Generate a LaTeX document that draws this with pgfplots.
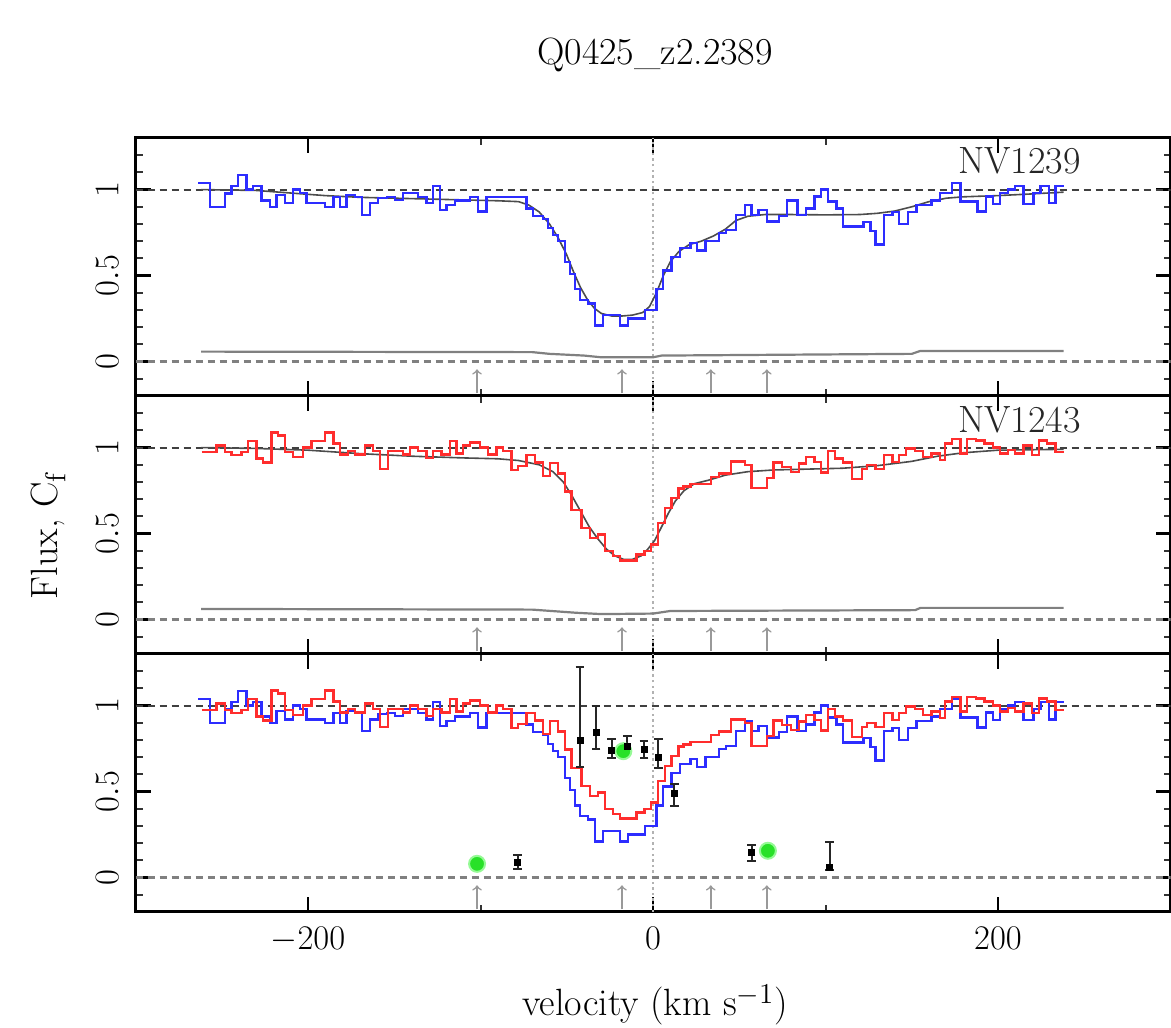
\documentclass[border=0pt]{standalone}
\usepackage{pgfplots}
\pgfplotsset{compat=1.18}
\usepackage{pgfplotstable}

\definecolor{specblue}{RGB}{45,45,255}
\definecolor{specred}{RGB}{255,45,45}
\definecolor{ptgreen}{RGB}{40,225,40}
\definecolor{ptgreenlt}{RGB}{150,250,150}

\pgfplotstableread{
v f
-263.6 1.04
-256.8 0.90
-248.1 0.977
-244.3 1.02
-240.4 1.085
-235.6 1.0
-231.7 1.02
-226.9 0.936
-222.1 0.90
-218.2 0.97
-213.4 0.92
-208.5 1.0
-204.7 0.98
-200.8 0.92
-190.2 0.90
-185.3 0.957
-181.5 0.90
-177.6 0.97
-172.8 0.957
-168.9 0.854
-164.1 0.92
-159.3 0.95
-154.4 0.957
-149.6 0.94
-144.8 0.98
-136.1 0.957
-131.3 0.92
-127.4 1.02
-123.5 0.88
-119.7 0.91
-114.8 0.936
-106.1 0.957
-101.3 0.873
-96.5 0.957
-73.3 0.89
-69.4 0.848
-63.6 0.83
-60.7 0.776
-57.8 0.737
-54.9 0.70
-51.1 0.58
-48.2 0.51
-45.3 0.42
-42.4 0.36
-37.6 0.337
-33.7 0.21
-28.9 0.27
-19.2 0.21
-14.4 0.25
-4.7 0.30
2.0 0.42
5.9 0.53
10.8 0.61
15.8 0.66
21.7 0.69
25.6 0.645
30.5 0.70
38.4 0.747
42.4 0.766
48.3 0.854
53.2 0.91
57.1 0.854
61.1 0.883
66.0 0.815
72.9 0.845
77.8 0.936
83.7 0.854
88.6 0.89
93.6 0.96
97.5 1.0
101.5 0.93
106.4 0.89
110.3 0.785
122.1 0.81
126.1 0.76
129.0 0.68
134.0 0.854
138.9 0.87
142.8 0.80
147.8 0.87
152.7 0.91
161.5 0.936
166.5 0.98
173.4 1.04
178.3 0.93
188.1 0.873
193.1 0.96
197.0 0.916
201.0 0.98
205.9 1.0
209.8 1.02
214.7 0.916
220.6 0.98
224.6 1.02
229.5 0.92
233.4 1.02
238.4 1.02
}\bluespec

\pgfplotstableread{
v f
-261.7 0.975
-253.0 1.013
-248.1 0.975
-244.3 0.956
-238.5 0.975
-234.6 1.04
-229.8 0.937
-225.9 0.913
-221.1 1.087
-217.2 1.07
-213.4 0.975
-208.5 0.946
-202.7 1.0
-197.9 1.04
-190.2 1.087
-185.3 1.023
-181.5 0.96
-176.7 0.98
-172.8 0.96
-167.0 1.013
-162.2 0.98
-158.3 0.875
-153.5 0.98
-144.8 0.96
-140.9 1.0
-136.1 0.98
-131.3 0.94
-127.4 0.98
-122.6 0.96
-117.7 1.04
-113.9 0.965
-110.0 1.013
-106.1 1.03
-100.3 1.0
-95.5 0.96
-90.7 1.0
-86.8 0.98
-82.0 0.87
-78.1 0.894
-73.3 0.956
-68.5 0.913
-63.6 0.836
-59.8 0.91
-54.9 0.85
-51.1 0.744
-47.2 0.638
-41.4 0.533
-36.6 0.475
-31.8 0.494
-27.9 0.398
-23.1 0.37
-19.2 0.344
-9.5 0.379
-4.9 0.40
-1.0 0.437
3.0 0.56
6.9 0.648
10.8 0.706
14.8 0.763
17.7 0.773
21.7 0.79
33.5 0.83
38.4 0.85
45.3 0.92
53.2 0.90
57.1 0.767
66.0 0.825
69.9 0.913
74.9 0.888
79.8 0.86
84.7 0.908
88.6 0.946
93.6 0.917
97.5 0.856
101.5 0.98
105.4 0.937
110.3 0.913
115.2 0.817
121.2 0.875
124.1 0.898
129.0 0.875
134.0 0.956
138.9 0.917
142.8 0.956
146.8 0.994
151.7 0.98
156.6 0.946
161.5 0.965
166.5 0.927
169.4 1.023
173.4 1.05
178.3 0.965
182.2 1.048
187.2 1.042
192.1 1.023
197.0 1.0
201.0 0.965
205.9 0.985
209.8 0.965
214.7 1.013
219.7 0.956
223.6 1.042
228.5 1.023
233.4 0.975
238.4 0.975
}\redspec

\pgfplotstableread{
v f
-262 1.0
-230 0.995
-210 0.98
-190 0.965
-170 0.955
-150 0.95
-130 0.945
-110 0.94
-90 0.935
-78 0.93
-72 0.91
-66 0.87
-60 0.80
-55 0.72
-50 0.62
-46 0.52
-42 0.43
-38 0.36
-34 0.31
-30 0.28
-24 0.265
-18 0.265
-12 0.27
-6 0.285
-2 0.32
2 0.40
6 0.50
10 0.58
15 0.64
21 0.68
28 0.70
35 0.73
42 0.77
48 0.82
55 0.845
65 0.855
80 0.855
100 0.853
120 0.855
130 0.862
140 0.875
150 0.90
160 0.93
170 0.95
180 0.958
200 0.965
220 0.975
238 0.985
}\fitone

\pgfplotstableread{
v f
-262 1.0
-230 0.995
-200 0.985
-170 0.965
-140 0.95
-110 0.94
-90 0.935
-78 0.925
-66 0.90
-58 0.86
-52 0.80
-47 0.72
-42 0.63
-37 0.54
-32 0.47
-27 0.41
-22 0.37
-17 0.35
-12 0.35
-7 0.37
-3 0.41
1 0.46
5 0.54
9 0.62
13 0.69
18 0.75
24 0.79
32 0.81
42 0.84
55 0.86
70 0.87
90 0.875
110 0.88
130 0.895
150 0.92
165 0.95
180 0.97
200 0.985
238 0.99
}\fittwo

\pgfplotstableread{
v f
-262 0.058
-70 0.055
-60 0.045
-40 0.035
-30 0.025
0 0.025
5 0.035
150 0.045
155 0.062
238 0.062
}\errone

\pgfplotstableread{
v f
-262 0.062
-70 0.058
-45 0.040
-30 0.032
0 0.035
10 0.050
152 0.055
155 0.068
238 0.068
}\errtwo

\pgfplotsset{
  panel/.style={
    scale only axis, width=517.5pt, height=129pt,
    xmin=-300, xmax=300, ymin=-0.2, ymax=1.3,
    anchor=south west,
    axis line style={line width=1.5pt},
    xtick={-200,0,200}, minor xtick={-100,100},
    ytick={0,0.5,1},
    minor ytick={-0.1,0.1,0.2,0.3,0.4,0.6,0.7,0.8,0.9,1.1,1.2},
    tick align=inside,
    major tick length=7.5pt, minor tick length=3.5pt,
    every major tick/.append style={line width=1.2pt, black},
    every minor tick/.append style={line width=1pt, black!80},
    xticklabels={},
    tick label style={font=\fontsize{19}{22}\selectfont},
    yticklabel style={xshift=-5pt, rotate=90, anchor=south},
    clip=true,
  },
  hline1/.style={black!75, line width=1pt, dash pattern=on 3.5pt off 2.5pt},
  hline0/.style={black!50, line width=1.3pt, dash pattern=on 3.5pt off 2.5pt},
  vline/.style={black!30, line width=1.3pt, dash pattern=on 1.2pt off 1.6pt},
  arr/.style={black!40, line width=0.8pt, ->, quiver={u=0, v=0.14}},
}

\begin{document}
\begin{tikzpicture}
\useasboundingbox (0,0) rectangle (585.5pt,513.5pt);

% Panel 1
\begin{axis}[panel, at={(67.75pt,315.5pt)}]
\addplot[vline] coordinates {(0,-0.2) (0,1.3)};
\addplot[hline1] coordinates {(-300,1) (300,1)};
\addplot[hline0] coordinates {(-300,0) (300,0)};
\addplot[black!50, line width=1.1pt] table[x=v,y=f] {\errone};
\addplot[black!70, line width=0.8pt] table[x=v,y=f] {\fitone};
\addplot[specblue, line width=1.15pt, const plot] table[x=v,y=f] {\bluespec};
\addplot[arr] coordinates {(-102,-0.185) (-18,-0.185) (33.5,-0.185) (66,-0.185)};
\node[anchor=east, font=\fontsize{19}{22}\selectfont, text=black!85] at (axis cs:252,1.17) {NV1239};
\end{axis}

% Panel 2
\begin{axis}[panel, at={(67.75pt,186.5pt)}]
\addplot[vline] coordinates {(0,-0.2) (0,1.3)};
\addplot[hline1] coordinates {(-300,1) (300,1)};
\addplot[hline0] coordinates {(-300,0) (300,0)};
\addplot[black!50, line width=1.1pt] table[x=v,y=f] {\errtwo};
\addplot[black!70, line width=0.8pt] table[x=v,y=f] {\fittwo};
\addplot[specred, line width=1.15pt, const plot] table[x=v,y=f] {\redspec};
\addplot[arr] coordinates {(-102,-0.185) (-18,-0.185) (33.5,-0.185) (66,-0.185)};
\node[anchor=east, font=\fontsize{19}{22}\selectfont, text=black!85] at (axis cs:252,1.16) {NV1243};
\end{axis}

% Panel 3
\begin{axis}[panel, at={(67.75pt,57.5pt)},
  xticklabels={$-200$,$0$,$200$},
  xticklabel style={yshift=-4pt}]
\addplot[vline] coordinates {(0,-0.2) (0,1.3)};
\addplot[hline1] coordinates {(-300,1) (300,1)};
\addplot[hline0] coordinates {(-300,0) (300,0)};
\addplot[specblue, line width=1.15pt, const plot] table[x=v,y=f] {\bluespec};
\addplot[specred, line width=1.15pt, const plot] table[x=v,y=f] {\redspec};
\addplot[arr] coordinates {(-102,-0.185) (-18,-0.185) (33.5,-0.185) (66,-0.185)};
\addplot[only marks, mark=*, mark size=4pt,
  mark options={fill=ptgreen, draw=ptgreenlt, line width=1pt}]
  coordinates {(-102,0.08) (-17.2,0.735) (66.6,0.156)};
\addplot[only marks, mark=square*, mark size=1.5pt, black,
  error bars/.cd, y dir=both, y explicit,
  error mark=-,
  error bar style={black!85, line width=1pt},
  error mark options={rotate=90, black!85, mark size=2.2pt, line width=1pt}]
  coordinates {
  (-42.3,0.80) += (0,0.425) -= (0,0.157)
  (-33.0,0.843) += (0,0.157) -= (0,0.095)
  (-24.0,0.738) += (0,0.07) -= (0,0.04)
  (-14.9,0.765) += (0,0.06) -= (0,0.04)
  (-5.2,0.745) += (0,0.05) -= (0,0.05)
  (3.1,0.70) += (0,0.107) -= (0,0.065)
  (12.4,0.487) += (0,0.06) -= (0,0.07)
  (-78.4,0.09) += (0,0.04) -= (0,0.04)
  (57.1,0.147) += (0,0.042) -= (0,0.048)
  (102.4,0.061) += (0,0.147) -= (0,0.019)
  };
\end{axis}

\node[font=\fontsize{19}{22}\selectfont] at (327.5pt,486pt) {Q0425\_z2.2389};
\node[font=\fontsize{19}{22}\selectfont] at (327.5pt,11pt) {velocity (km s$^{-1}$)};
\node[font=\fontsize{19}{22}\selectfont, rotate=90] at (24pt,246pt) {Flux, C$_{\rm f}$};
\end{tikzpicture}
\end{document}
